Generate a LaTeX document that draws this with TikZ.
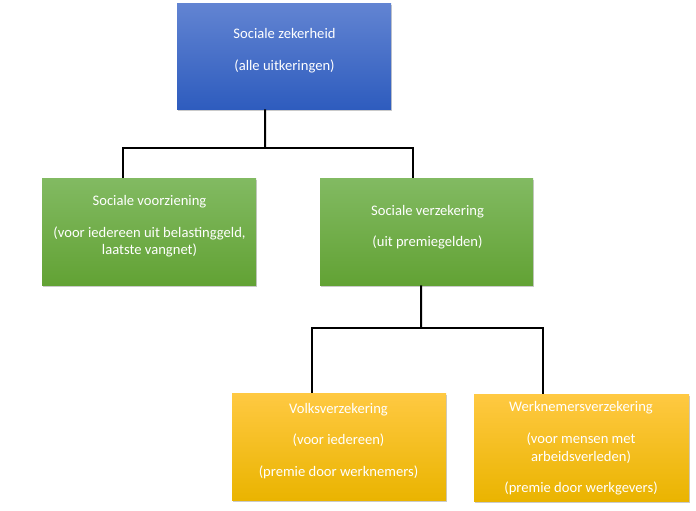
\documentclass[tikz,border=0pt]{standalone}
\usepackage{fontspec}
\setmainfont{Carlito}
\usetikzlibrary{shadows}
\definecolor{bluetop}{RGB}{98,132,210}
\definecolor{bluebot}{RGB}{46,92,190}
\definecolor{greentop}{RGB}{130,186,98}
\definecolor{greenbot}{RGB}{98,162,52}
\definecolor{yeltop}{RGB}{255,201,66}
\definecolor{yelbot}{RGB}{234,180,0}
\tikzset{
  box/.style={rectangle, draw=none, inner sep=0pt, anchor=north west,
    drop shadow={shadow xshift=1.2pt, shadow yshift=-1.8pt, opacity=0.35, fill=black!60}},
  bluebox/.style={box, top color=bluetop, bottom color=bluebot},
  greenbox/.style={box, top color=greentop, bottom color=greenbot},
  yelbox/.style={box, top color=yeltop, bottom color=yelbot},
  txt/.style={align=center, text=white, inner sep=0pt,
    font=\fontsize{14.6}{17.9}\selectfont},
  conn/.style={draw=black, line width=2pt}
}
\begin{document}
\begin{tikzpicture}[x=1pt,y=-1pt]
\useasboundingbox (0,0) rectangle (696,511);
% boxes
\node[bluebox, minimum width=214pt, minimum height=106pt] (blue) at (177,3) {};
\node[greenbox, minimum width=214pt, minimum height=107pt] (lg) at (42,178) {};
\node[greenbox, minimum width=213pt, minimum height=107pt] (rg) at (320,178) {};
\node[yelbox, minimum width=214pt, minimum height=107pt] (vv) at (232,393) {};
\node[yelbox, minimum width=215pt, minimum height=107pt,
  drop shadow={shadow xshift=0pt, shadow yshift=-1pt, opacity=0.1, fill=black}] (wv) at (474,394) {};
% texts
\node[txt] (blueT) at (284.5,50.5) {Sociale zekerheid\\[13.5pt](alle uitkeringen)};
\node[txt] (lgT) at (149.5,226.5) {Sociale voorziening\\[13.5pt](voor iedereen uit belastinggeld,\\laatste vangnet)};
\node[txt] (rgT) at (427.5,227) {Sociale verzekering\\[13.5pt](uit premiegelden)};
\node[txt] (vvT) at (338.5,441) {Volksverzekering\\[13.5pt](voor iedereen)\\[13.5pt](premie door werknemers)};
\node[txt] (wvT) at (581,448.5) {Werknemersverzekering\\[13.5pt](voor mensen met\\arbeidsverleden)\\[13.5pt](premie door werkgevers)};
% connectors
\coordinate (j1) at (265,147.7);
\coordinate (j2) at (421,328);
\draw[conn] ([xshift=-19pt]blue.south) -- (j1);
\draw[conn] ([xshift=-26pt]lg.north) |- (j1) -| ([xshift=-13.5pt]rg.north);
\draw[conn] ([xshift=-5.5pt]rg.south) -- (j2);
\draw[conn] ([xshift=-27pt]vv.north) |- (j2) -| ([xshift=-38.5pt]wv.north);
\end{tikzpicture}
\end{document}
